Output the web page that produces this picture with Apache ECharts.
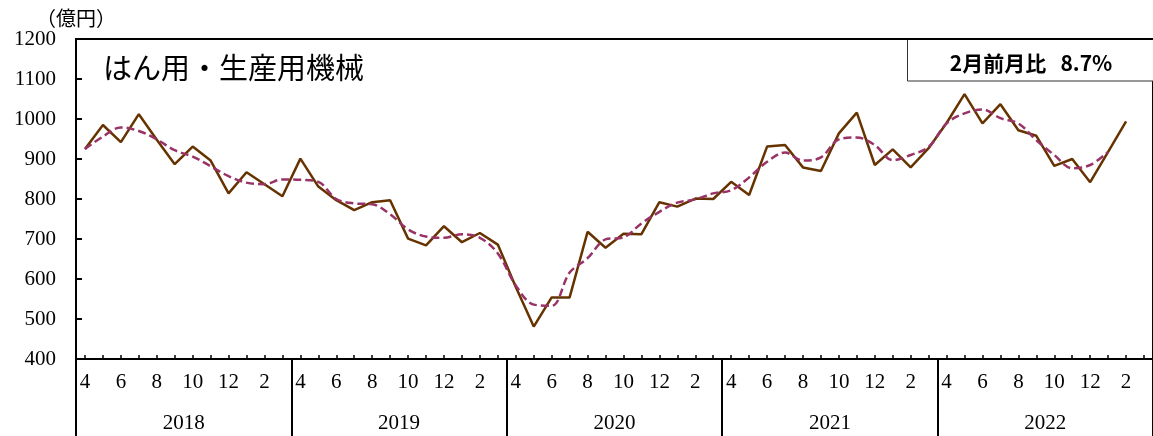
<!DOCTYPE html>
<html><head><meta charset="utf-8">
<script src="https://cdn.jsdelivr.net/npm/echarts@6/dist/echarts.min.js"></script>
<style>html,body{margin:0;padding:0;background:#fff}#c{width:1153px;height:436px}</style>
</head><body><div id="c"></div>
<script>
var categories = [
 '2018/4','2018/5','2018/6','2018/7','2018/8','2018/9','2018/10','2018/11','2018/12','2019/1','2019/2','2019/3',
 '2019/4','2019/5','2019/6','2019/7','2019/8','2019/9','2019/10','2019/11','2019/12','2020/1','2020/2','2020/3',
 '2020/4','2020/5','2020/6','2020/7','2020/8','2020/9','2020/10','2020/11','2020/12','2021/1','2021/2','2021/3',
 '2021/4','2021/5','2021/6','2021/7','2021/8','2021/9','2021/10','2021/11','2021/12','2022/1','2022/2','2022/3',
 '2022/4','2022/5','2022/6','2022/7','2022/8','2022/9','2022/10','2022/11','2022/12','2023/1','2023/2','2023/3'
];
var years = ['2018','2019','2020','2021','2022'];
var actual = [
 925,985,942,1012,948,887,931,896,814,867,837,807,
 901,831,797,772,792,797,701,684,732,692,715,686,
 580,481,554,554,718,678,713,712,792,781,801,800,
 843,810,931,935,879,870,964,1016,885,924,879,927,
 990,1062,989,1037,972,958,883,900,842,918,994
];
var trend = [
 925,956,979,970,949,922,906,882,857,841,837,849,
 848,843,800,789,787,762,724,706,703,712,703,664,
 584,536,533,616,652,699,704,739,768,791,799,814,
 822,854,893,916,896,904,949,954,935,897,910,930,
 989,1014,1024,1002,989,947,910,877,885,918
];
var yTicks = {min:400, max:1200, interval:100};
var titleText = 'はん用・生産用機械';
var unitText = '（億円）';
var noteText = '2月前月比   8.7%';

var serif = 'Liberation Serif';
var chart = echarts.init(document.getElementById('c'));
chart.setOption({
  animation:false,
  backgroundColor:'#fff',
  grid:{left:76, top:39, width:1080, height:320, show:true, borderColor:'#000', borderWidth:2, backgroundColor:'transparent'},
  xAxis:[{
    type:'category', data:categories, boundaryGap:true, position:'bottom',
    axisLine:{show:true, lineStyle:{color:'#000', width:2}},
    axisTick:{show:true, inside:true, alignWithLabel:true, interval:0, length:4, lineStyle:{color:'#000', width:1.5}},
    axisLabel:{interval:function(i){return i%2===0;}, formatter:function(v){return v.split('/')[1];},
      fontFamily:serif, fontSize:21, color:'#000', margin:13},
    splitLine:{show:false}
  },{
    type:'category', data:years, boundaryGap:true, position:'bottom',
    axisLine:{show:false},
    axisTick:{show:true, inside:false, interval:0, length:78, lineStyle:{color:'#000', width:2}},
    axisLabel:{interval:0, fontFamily:serif, fontSize:21, color:'#000', margin:54},
    splitLine:{show:false}
  }],
  yAxis:{
    type:'value', min:yTicks.min, max:yTicks.max, interval:yTicks.interval,
    axisLine:{show:true, lineStyle:{color:'#000', width:2}},
    axisTick:{show:true, inside:true, length:6, lineStyle:{color:'#000', width:2}},
    axisLabel:{fontFamily:serif, fontSize:21, color:'#000', margin:20, formatter:function(v){return String(v);}},
    splitLine:{show:false}
  },
  series:[{
    type:'line', data:actual, xAxisIndex:0, showSymbol:false, symbol:'none',
    lineStyle:{color:'#663300', width:2.5}, z:3
  },{
    type:'line', data:trend, xAxisIndex:0, showSymbol:false, symbol:'none', smooth:0.35,
    lineStyle:{color:'#993366', width:2.5, type:[8,4]}, z:4
  }],
  graphic:[
    {type:'text', left:36, top:8, style:{text:unitText, font:'20px "Noto Sans CJK JP"', fill:'#000'}},
    {type:'text', x:103, y:68, style:{text:titleText, font:'29px "Noto Sans CJK JP"', fill:'#000', verticalAlign:'middle'}},
    {type:'rect', shape:{x:907.5, y:39, width:260, height:42}, style:{fill:'#fff', stroke:'#333', lineWidth:1}, z:10},
    {type:'line', shape:{x1:907, y1:39, x2:1160, y2:39}, style:{stroke:'#000', lineWidth:2}, z:11},
    {type:'text', x:1031, y:63, style:{text:noteText, font:'bold 21px "Noto Sans CJK JP"', fill:'#000', align:'center', verticalAlign:'middle'}, z:12}
  ]
});
</script></body></html>
